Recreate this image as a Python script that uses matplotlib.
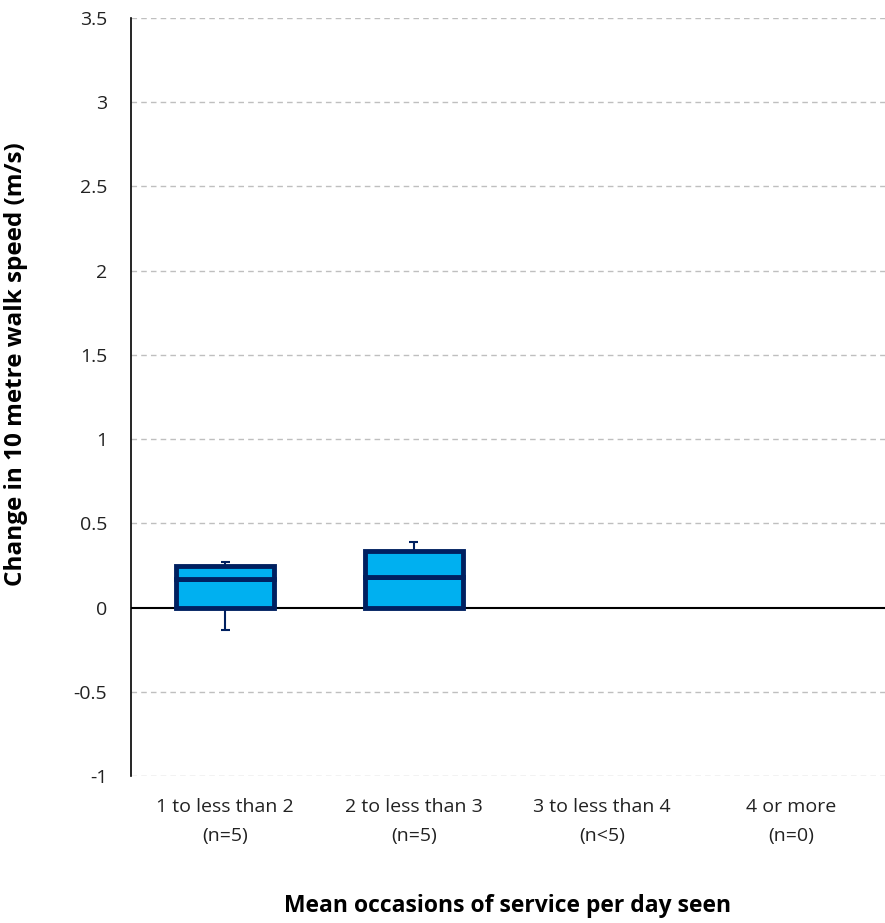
import numpy as np
import matplotlib
matplotlib.use("Agg")
import matplotlib.pyplot as plt

plt.rcParams['font.family'] = ['Open Sans', 'DejaVu Sans']

categories = ["1 to less than 2\n(n=5)", "2 to less than 3\n(n=5)",
              "3 to less than 4\n(n<5)", "4 or more\n(n=0)"]
q1 = [0.0, 0.0, np.nan, np.nan]
median = [0.17, 0.18, np.nan, np.nan]
q3 = [0.245, 0.335, np.nan, np.nan]
wmin = [-0.13, 0.0, np.nan, np.nan]
wmax = [0.27, 0.39, np.nan, np.nan]
yticks = [-1, -0.5, 0, 0.5, 1, 1.5, 2, 2.5, 3, 3.5]
ytick_labels = ["-1", "-0.5", "0", "0.5", "1", "1.5", "2", "2.5", "3", "3.5"]

fill = "#00B0F0"
navy = "#002060"

fig = plt.figure(figsize=(8.85, 9.23), dpi=100)
ax = fig.add_axes([0.148, 0.159, 0.852, 0.8215])

x = np.arange(len(categories))
q1a = np.array(q1); meda = np.array(median); q3a = np.array(q3)
wmina = np.array(wmin); wmaxa = np.array(wmax)

ax.set_xlim(-0.5, len(categories) - 0.5)
ax.set_ylim(-1, 3.5)

for yv in yticks:
    if yv == 0:
        continue
    ax.axhline(yv, color="#BFBFBF", lw=1.0, ls=(0, (4, 3)), zorder=0)
ax.axhline(0, color="black", lw=1.5, zorder=1)

# whiskers
valid = ~np.isnan(meda)
ax.vlines(x[valid], wmina[valid], q1a[valid], color=navy, lw=1.5, zorder=2)
ax.vlines(x[valid], q3a[valid], wmaxa[valid], color=navy, lw=1.5, zorder=2)
for xi, lo, hi, b, t in zip(x[valid], wmina[valid], wmaxa[valid], q1a[valid], q3a[valid]):
    if lo < b:
        ax.hlines(lo, xi - 0.025, xi + 0.025, color=navy, lw=1.5, zorder=2)
    if hi > t:
        ax.hlines(hi, xi - 0.025, xi + 0.025, color=navy, lw=1.5, zorder=2)

w = 0.52
ax.bar(x[valid], (meda - q1a)[valid], bottom=q1a[valid], width=w, color=fill,
       edgecolor=navy, linewidth=3.5, zorder=3)
ax.bar(x[valid], (q3a - meda)[valid], bottom=meda[valid], width=w, color=fill,
       edgecolor=navy, linewidth=3.5, zorder=3)

ax.set_yticks(yticks)
ax.set_yticklabels(ytick_labels, fontsize=14, color="#222222")
ax.set_xticks(x)
ax.set_xticklabels(categories, fontsize=14, color="#222222", linespacing=1.75)
ax.tick_params(axis='y', length=0, pad=17)
ax.tick_params(axis='x', length=0, pad=16)

for s in ["top", "right", "bottom"]:
    ax.spines[s].set_visible(False)
ax.spines["left"].set_color("black")
ax.spines["left"].set_linewidth(1.2)

ax.set_ylabel("Change in 10 metre walk speed (m/s)", fontsize=17.5, fontweight="bold")
ax.yaxis.set_label_coords(-0.137, 0.5435)
ax.set_xlabel("Mean occasions of service per day seen", fontsize=16.5, fontweight="bold", labelpad=35)

fig.savefig("out.png", dpi=100)
